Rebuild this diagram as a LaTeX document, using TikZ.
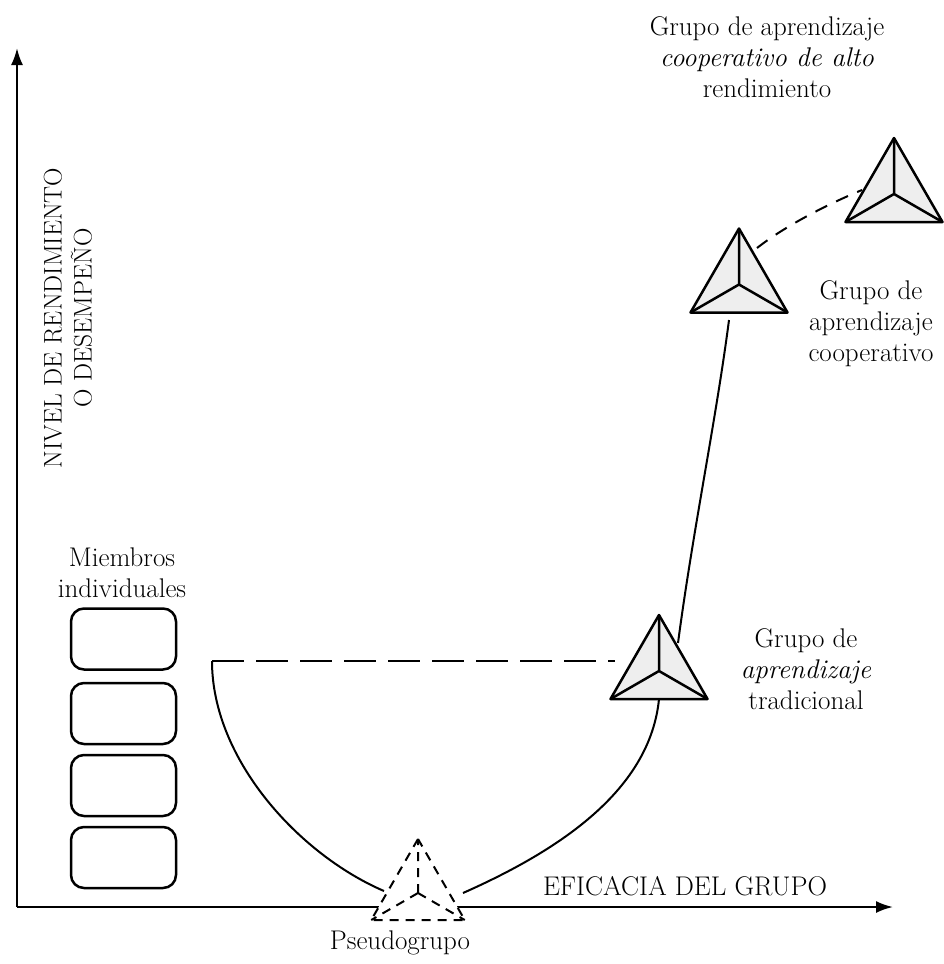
\documentclass[tikz,border=0pt]{standalone}
\usepackage{fontspec}
\usetikzlibrary{arrows.meta,shapes.geometric}
\begin{document}
\begin{tikzpicture}[x=1pt,y=-1pt,
  lbl/.style={font=\fontsize{27}{31}\selectfont, align=center, inner sep=0pt},
  axis/.style={line width=2.2pt, -{Latex[length=17pt,width=12pt]}},
  member/.style={draw, line width=2.5pt, rounded corners=13pt, minimum width=105pt, minimum height=61pt, inner sep=0pt},
  tri/.style={regular polygon, regular polygon sides=3, minimum size=112pt, inner sep=0pt, outer sep=0pt, draw, line width=2.5pt, line join=round, fill=gray!13},
  pseudotri/.style={tri, fill=white, dash pattern=on 9pt off 7pt, line width=2pt, minimum size=108pt},
  triinner/.style={line width=2.5pt, line join=round},
  pseudoinner/.style={line width=2pt, dash pattern=on 9pt off 7pt},
  link/.style={line width=2pt},
  dashlink/.style={line width=2pt, dash pattern=on 32pt off 12pt},
  shortdash/.style={line width=2pt, dash pattern=on 13pt off 10pt},
]
\useasboundingbox (0,0) rectangle (944,964);

% axes
\coordinate (O) at (17,907);
\coordinate (ytop) at (17,48);
\coordinate (xend) at (893,907);
\draw[axis] (O) -- (ytop);
\draw[axis] (O) -- (xend);

% axis labels
\node[lbl, font=\fontsize{25.5}{30}\selectfont, rotate=90] (ly) at (68,318) {NIVEL DE RENDIMIENTO\\O DESEMPEÑO};
\node[lbl] (lx) at (685,886) {EFICACIA DEL GRUPO};

% individual members
\node[lbl] (lmem) at (122,573) {Miembros\\individuales};
\node[member] (m1) at (123.5,639) {};
\node[member] (m2) at (123.5,713.5) {};
\node[member] (m3) at (123.5,785.5) {};
\node[member] (m4) at (123.5,857.5) {};

% triangles
\node[pseudotri] (pseudo) at (418,893) {};
\draw[pseudoinner] (pseudo.center) -- (pseudo.corner 1)
                   (pseudo.center) -- (pseudo.corner 2)
                   (pseudo.center) -- (pseudo.corner 3);
\node[tri] (trad) at (659,671) {};
\node[tri] (coop) at (739,284.5) {};
\node[tri] (high) at (894,194) {};
\foreach \t in {trad,coop,high}{
  \draw[triinner] (\t.center) -- (\t.corner 1)
                  (\t.center) -- (\t.corner 2)
                  (\t.center) -- (\t.corner 3);
}

% connectors
\coordinate (hL) at (212,661);
\coordinate (hR) at (615,661);
\draw[dashlink] (hL) -- (hR);
\coordinate (pL) at (384,891);
\coordinate (pR) at (463,893);
\draw[link] (hL) .. controls (212,760) and (300,855) .. (pL);
\draw[link] (pR) .. controls (560,850) and (650,790) .. (trad.south);
\coordinate (tU) at (678,643);
\coordinate (cD) at (729,320);
\draw[link] (tU) .. controls (693,530) and (716,420) .. (cD);
\coordinate (cR) at (757,248);
\coordinate (hLft) at (862,190);
\draw[shortdash] (cR) .. controls (785,226) and (828,204) .. (hLft);

% labels
\node[lbl] (lhigh) at (767,57) {Grupo de aprendizaje\\\textit{cooperativo de alto}\\rendimiento};
\node[lbl] (lcoop) at (871,324) {Grupo de\\aprendizaje\\cooperativo};
\node[lbl] (ltrad) at (806,669) {Grupo de\\\textit{aprendizaje}\\tradicional};
\node[lbl] (lpseudo) at (400,943) {Pseudogrupo};
\end{tikzpicture}
\end{document}
